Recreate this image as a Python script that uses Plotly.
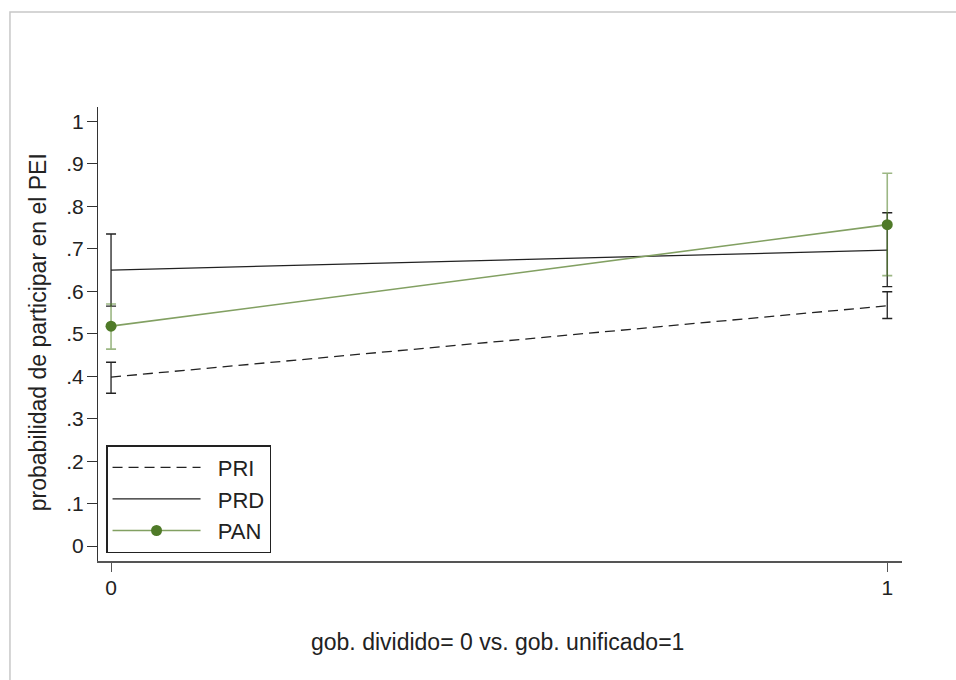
import plotly.graph_objects as go

# ---- data ----
x_vals = [0, 1]
pri_mean = [0.398, 0.566]
pri_lo = [0.360, 0.536]
pri_hi = [0.433, 0.599]

prd_mean = [0.650, 0.697]
prd_lo = [0.565, 0.611]
prd_hi = [0.735, 0.785]

pan_mean = [0.518, 0.757]
pan_lo = [0.464, 0.637]
pan_hi = [0.570, 0.878]

series_names = ["PRI", "PRD", "PAN"]
y_tickvals = [0, 0.1, 0.2, 0.3, 0.4, 0.5, 0.6, 0.7, 0.8, 0.9, 1]
y_ticktext = ["0", ".1", ".2", ".3", ".4", ".5", ".6", ".7", ".8", ".9", "1"]
x_tickvals = [0, 1]
x_ticktext = ["0", "1"]

FONT = "Liberation Sans, Arial, Helvetica, sans-serif"
PAD = "\u00a0\u00a0"


def err(mean, lo, hi, color, width):
    return dict(type="data", symmetric=False,
                array=[h - m for h, m in zip(hi, mean)],
                arrayminus=[m - l for m, l in zip(mean, lo)],
                color=color, thickness=width, width=5)


fig = go.Figure()
fig.add_trace(go.Scatter(
    x=x_vals, y=pri_mean, name=PAD + series_names[0], mode="lines",
    line=dict(color="#222222", width=1.3, dash="10px,6px"),
    error_y=err(pri_mean, pri_lo, pri_hi, "#222222", 1.3)))
fig.add_trace(go.Scatter(
    x=x_vals, y=prd_mean, name=PAD + series_names[1], mode="lines",
    line=dict(color="#222222", width=1.3),
    error_y=err(prd_mean, prd_lo, prd_hi, "#222222", 1.3)))
fig.add_trace(go.Scatter(
    x=x_vals, y=pan_mean, name=PAD + series_names[2], mode="lines+markers",
    line=dict(color="#82a062", width=1.6),
    marker=dict(color="#4f7a28", size=11),
    error_y=err(pan_mean, pan_lo, pan_hi, "rgba(90,135,50,0.6)", 1.6)))

fig.update_layout(
    width=956, height=680,
    margin=dict(l=98, r=54, t=107, b=119),
    paper_bgcolor="white", plot_bgcolor="white",
    font=dict(family=FONT, size=21, color="#222222"),
    showlegend=True,
    legend=dict(x=0.01, y=0.0176, xanchor="left", yanchor="bottom",
                bordercolor="#222222", borderwidth=1.5, bgcolor="white",
                font=dict(size=22), itemwidth=88, tracegroupgap=0),
    xaxis=dict(range=[-0.0168, 1.019], tickvals=x_tickvals, ticktext=x_ticktext,
               showgrid=False, zeroline=False, showline=True, linecolor="#555555",
               linewidth=1.5, ticks="outside", ticklen=9, tickcolor="#555555",
               tickwidth=1.3, tickfont=dict(size=21), ticklabelstandoff=-2),
    yaxis=dict(range=[-0.035, 1.034], tickvals=y_tickvals, ticktext=y_ticktext,
               showgrid=False, zeroline=False, showline=True, linecolor="#333333",
               linewidth=1.3, ticks="outside", ticklen=10, tickcolor="#333333",
               tickwidth=1.3, tickfont=dict(size=21), ticklabelstandoff=-1),
    shapes=[dict(type="rect", xref="paper", yref="paper",
                 x0=-0.1095, x1=1.2, y0=-0.4, y1=1.2093,
                 line=dict(color="#c8c8c8", width=1.5), layer="below")],
    annotations=[
        dict(text="gob. dividido= 0 vs. gob. unificado=1", xref="paper", yref="paper",
             x=0.4975, y=-0.178, xanchor="center", yanchor="middle", showarrow=False,
             font=dict(size=23)),
        dict(text="probabilidad de participar en el PEI", xref="paper", yref="paper",
             x=-0.0746, y=0.504, xanchor="center", yanchor="middle", showarrow=False,
             textangle=-90, font=dict(size=23)),
    ],
)

fig.write_html("out.html")
